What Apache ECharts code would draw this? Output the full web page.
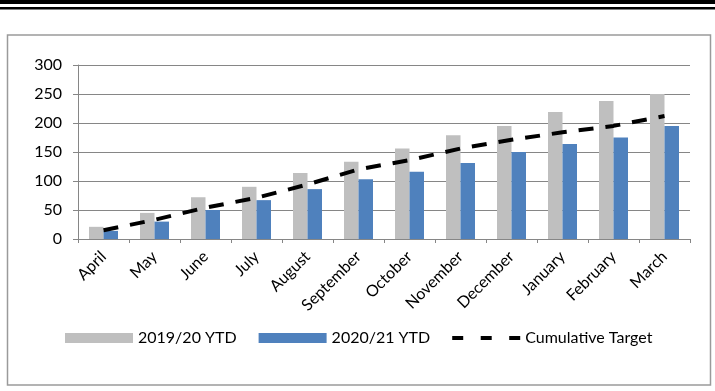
<!DOCTYPE html>
<html>
<head>
<meta charset="utf-8">
<script src="https://cdn.jsdelivr.net/npm/echarts@6/dist/echarts.min.js"></script>
<style>
  html, body { margin: 0; padding: 0; background: #fff; }
  #chart { width: 715px; height: 391px; }
</style>
</head>
<body>
<div id="chart"></div>
<script>
// Month categories (financial year April to March)
const months = ['April', 'May', 'June', 'July', 'August', 'September',
  'October', 'November', 'December', 'January', 'February', 'March'];

// Year-to-date totals
const ytd2019 = [21, 45, 72, 90, 114, 133, 156, 179, 195, 219, 238, 250];
const ytd2020 = [14, 30, 50, 67, 86, 103, 116, 131, 150, 164, 175, 195];

// Cumulative target for the year
const cumulativeTarget = [15, 33, 54, 71, 94, 120, 136, 156, 171, 184, 195, 212];

// Value axis ticks
const yTicks = [0, 50, 100, 150, 200, 250, 300];

const FONT = 'Lato';
// three short dashes used as the legend key of the target line
const DASH_ICON = 'path://M0,0 L11,0 L11,4 L0,4 Z M28.5,0 L39.5,0 L39.5,4 L28.5,4 Z M57,0 L68,0 L68,4 L57,4 Z';

const chart = echarts.init(document.getElementById('chart'), null, { renderer: 'canvas' });

chart.setOption({
  animation: false,
  backgroundColor: '#ffffff',
  textStyle: { fontFamily: FONT, color: '#000' },
  graphic: [
    // heading rules across the top
    { type: 'rect', shape: { x: 0, y: 0, width: 715, height: 4 }, style: { fill: '#000' } },
    { type: 'rect', shape: { x: 0, y: 7, width: 715, height: 2.5 }, style: { fill: '#000' } },
    // chart frame
    { type: 'rect', shape: { x: 7.5, y: 35, width: 703, height: 350 },
      style: { fill: 'none', stroke: '#9a9a9a', lineWidth: 1.5 }, z: -1 }
  ],
  grid: { left: 78, right: 25, top: 65, bottom: 152 },
  legend: {
    left: 65,
    top: 330,
    padding: 0,
    itemWidth: 68,
    itemHeight: 10,
    itemGap: 22,
    symbolKeepAspect: true,
    textStyle: { fontFamily: FONT, fontSize: 16, color: '#000' },
    data: [
      { name: '2019/20 YTD', icon: 'rect' },
      { name: '2020/21 YTD', icon: 'rect' },
      { name: 'Cumulative Target', icon: DASH_ICON, itemStyle: { color: '#000' } }
    ]
  },
  xAxis: {
    type: 'category',
    data: months,
    boundaryGap: true,
    axisLine: { lineStyle: { color: '#868686', width: 1 } },
    axisTick: { show: true, alignWithLabel: false, length: 4, lineStyle: { color: '#868686' } },
    axisLabel: { rotate: 45, fontSize: 16, fontFamily: FONT, color: '#000', margin: 15, interval: 0 }
  },
  yAxis: {
    type: 'value',
    min: yTicks[0],
    max: yTicks[yTicks.length - 1],
    interval: yTicks[1] - yTicks[0],
    axisLine: { show: true, lineStyle: { color: '#868686', width: 1 } },
    axisTick: { show: true, length: 5, lineStyle: { color: '#868686' } },
    splitLine: { lineStyle: { color: '#868686', width: 1 } },
    axisLabel: { fontSize: 16, fontFamily: FONT, color: '#000', margin: 16 }
  },
  series: [
    {
      name: '2019/20 YTD',
      type: 'bar',
      data: ytd2019,
      barWidth: 14.5,
      barGap: '0%',
      itemStyle: { color: '#bfbfbf' }
    },
    {
      name: '2020/21 YTD',
      type: 'bar',
      data: ytd2020,
      barWidth: 14.5,
      barGap: '0%',
      itemStyle: { color: '#4f81bd' }
    },
    {
      name: 'Cumulative Target',
      type: 'line',
      data: cumulativeTarget,
      symbol: 'none',
      itemStyle: { color: '#000' },
      lineStyle: { color: '#000', width: 4, type: [15, 12] },
      z: 5
    }
  ]
});
</script>
</body>
</html>
